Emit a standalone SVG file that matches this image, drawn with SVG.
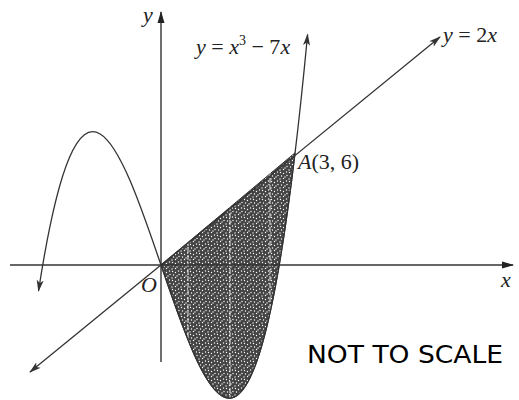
<svg xmlns="http://www.w3.org/2000/svg" width="519" height="400" viewBox="0 0 519 400">
<style>
.ax{stroke:#333;stroke-width:1.4;fill:none}
.cv{stroke:#333;stroke-width:1.3;fill:none}
.t{font-family:"Liberation Serif","Times New Roman",serif;font-size:22px;fill:#222}
.i{font-style:italic}
.ns{font-family:"DejaVu Sans","Verdana",sans-serif;font-size:25px;fill:#000}
</style>
<defs>
<marker id="ah" viewBox="0 0 12 8" refX="11" refY="4" markerWidth="12" markerHeight="8" markerUnits="userSpaceOnUse" orient="auto-start-reverse">
<path d="M0,0.5 L12,4 L0,7.5 L3,4 Z" fill="#333"/>
</marker>
<marker id="axh" viewBox="0 0 12 8" refX="11" refY="4" markerWidth="12" markerHeight="8" markerUnits="userSpaceOnUse" orient="auto">
<path d="M0,0.5 L12,4 L0,7.5 Z" fill="#222"/>
</marker>
<pattern id="dots" width="9" height="9" patternUnits="userSpaceOnUse">
<rect width="9" height="9" fill="#444"/>
<circle cx="1.5" cy="1.5" r="0.7" fill="#fff"/>
<circle cx="4.5" cy="2.5" r="0.7" fill="#fff"/>
<circle cx="7.5" cy="1" r="0.7" fill="#fff"/>
<circle cx="2.5" cy="5" r="0.7" fill="#fff"/>
<circle cx="6" cy="6" r="0.7" fill="#fff"/>
<circle cx="1" cy="8" r="0.7" fill="#fff"/>
<circle cx="4.5" cy="7.5" r="0.7" fill="#fff"/>
<circle cx="8" cy="4.5" r="0.7" fill="#fff"/>
</pattern>
<clipPath id="regclip">
<path d="M161,265 L295.1,152.8 C250.4,526.8 205.7,395.9 161,265 Z"/>
</clipPath>
</defs>

<g id="region">
<path d="M161,265 L295.1,152.8 C250.4,526.8 205.7,395.9 161,265 Z" fill="url(#dots)" stroke="#333" stroke-width="1"/>
<g clip-path="url(#regclip)" stroke="#fff" stroke-width="1" stroke-dasharray="5,2" opacity="0.85">
<line x1="188" y1="150" x2="188" y2="400"/>
<line x1="230" y1="150" x2="230" y2="400"/>
<line x1="270" y1="150" x2="270" y2="400"/>
</g>
</g>

<g id="axes">
<line class="ax" x1="10" y1="265" x2="513" y2="265" marker-end="url(#axh)"/>
<line class="ax" x1="161" y1="362" x2="161" y2="12" marker-end="url(#axh)"/>
</g>

<g id="connectors">
<path id="cubic" class="cv" d="M38.5,291 C128.2,-291.5 217.9,982.9 307.6,34.5" marker-start="url(#ah)" marker-end="url(#ah)"/>
<line id="line2x" class="cv" x1="30" y1="372" x2="440" y2="37" marker-start="url(#ah)" marker-end="url(#ah)"/>
</g>

<g id="labels">
<text class="t i" x="143" y="22">y</text>
<text class="t" x="196" y="54"><tspan class="i">y</tspan> = <tspan class="i">x</tspan><tspan font-size="14" dy="-9">3</tspan><tspan dy="9"> − 7</tspan><tspan class="i">x</tspan></text>
<text class="t" x="443" y="42"><tspan class="i">y</tspan> = 2<tspan class="i">x</tspan></text>
<text class="t" x="298" y="169"><tspan class="i">A</tspan>(3, 6)</text>
<text class="t i" x="141" y="292">O</text>
<text class="t i" x="501" y="287">x</text>
<text class="ns" x="307" y="363" textLength="196" lengthAdjust="spacingAndGlyphs">NOT TO SCALE</text>
</g>
</svg>
